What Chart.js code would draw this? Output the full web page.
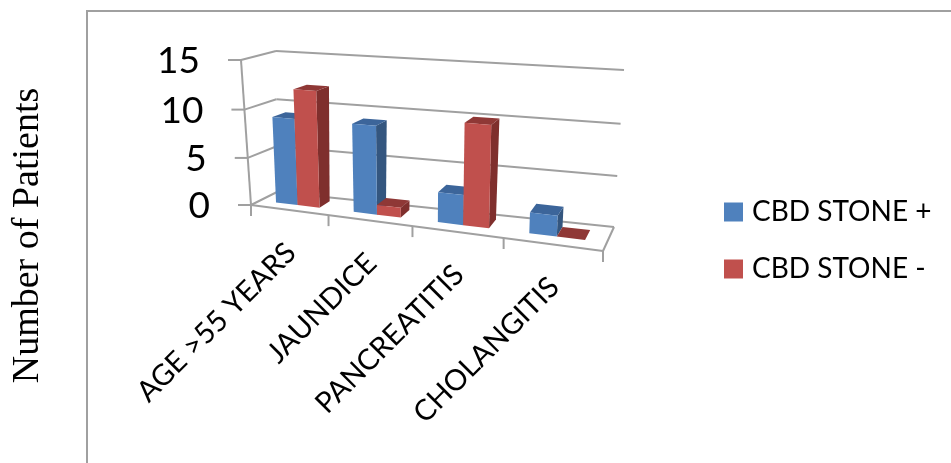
<!DOCTYPE html>
<html>
<head>
<meta charset="utf-8">
<title>CBD stone</title>
<script src="https://cdn.jsdelivr.net/npm/chart.js@4"></script>
<style>
html, body { margin: 0; padding: 0; background: #fff; }
canvas { display: block; }
</style>
</head>
<body>
<canvas id="chart" width="951" height="463"></canvas>
<script>
var categories = ["AGE >55 YEARS", "JAUNDICE", "PANCREATITIS", "CHOLANGITIS"];
var seriesNames = ["CBD STONE +", "CBD STONE -"];
var stonePositive = [9, 9, 3, 2];
var stoneNegative = [12, 1, 10, 0];
var valueMax = 15;
var valueStep = 5;

var GRID = "#a0a0a0";
var FACES = [
	{ front: "#4f81bd", top: "#3c659a", side: "#34567f" },
	{ front: "#c0504d", top: "#8f3836", side: "#7f2f2d" }
];

// corners of the 3d box as it lands on the page: [bottom, top] at front and back
var BOX = {
	frontLeft: [[251, 205], [241, 60]],
	frontRight: [[603, 251], [611, 83]],
	backLeft: [[277, 192], [276, 51]],
	backRight: [[614, 227], [624, 70]]
};
var BAR_NEAR = 0.35, BAR_FAR = 0.78;

function warp(t, k) {
	return t / (t + k * (1 - t));
}

function mix(a, b, f) {
	return [a[0] + (b[0] - a[0]) * f, a[1] + (b[1] - a[1]) * f];
}

// t along categories, s up the value axis, w into the depth, all 0..1
function place(t, s, w) {
	var u = warp(t, 1.18), v = warp(s, 1.04);
	var fl = mix(BOX.frontLeft[0], BOX.frontLeft[1], v);
	var fr = mix(BOX.frontRight[0], BOX.frontRight[1], v);
	var bl = mix(BOX.backLeft[0], BOX.backLeft[1], v);
	var br = mix(BOX.backRight[0], BOX.backRight[1], v);
	return mix(mix(fl, fr, u), mix(bl, br, u), w);
}

function line(ctx, a, b) {
	ctx.beginPath();
	ctx.moveTo(a[0], a[1]);
	ctx.lineTo(b[0], b[1]);
	ctx.stroke();
}

function quad(ctx, pts, color) {
	ctx.fillStyle = color;
	ctx.beginPath();
	ctx.moveTo(pts[0][0], pts[0][1]);
	for (var i = 1; i < pts.length; i++) {
		ctx.lineTo(pts[i][0], pts[i][1]);
	}
	ctx.closePath();
	ctx.fill();
}

function drawFrame(ctx) {
	ctx.strokeStyle = "#a0a0a0";
	ctx.lineWidth = 2;
	line(ctx, [87, 463], [87, 11]);
	line(ctx, [86, 11], [951, 11]);
}

function drawWalls(chart) {
	var ctx = chart.ctx, y = chart.scales.y, area = chart.chartArea;
	ctx.strokeStyle = GRID;
	ctx.lineWidth = 2;

	y.ticks.forEach(function(tick) {
		var s = (area.bottom - y.getPixelForValue(tick.value)) / area.height;
		var front = place(0, s, 0);
		line(ctx, front, place(0, s, 1));
		line(ctx, place(0, s, 1), place(1, s, 1));
		line(ctx, [front[0] - 13, front[1]], front);
	});
	line(ctx, place(0, 0, 0), place(0, 1, 0));
	line(ctx, place(0, 0, 0), place(1, 0, 0));
	line(ctx, place(1, 0, 0), place(1, 0, 1));

	// tick marks under the front edge
	for (var i = 0; i <= categories.length; i++) {
		var p = place(i / categories.length, 0, 0);
		line(ctx, p, [p[0], p[1] + 11]);
	}
}

function drawBars(chart) {
	var ctx = chart.ctx, area = chart.chartArea;
	categories.forEach(function(name, c) {
		chart.data.datasets.forEach(function(ds, d) {
			var bar = chart.getDatasetMeta(d).data[c];
			var t0 = (bar.x - bar.width / 2 - area.left) / area.width;
			var t1 = (bar.x + bar.width / 2 - area.left) / area.width;
			var s0 = (area.bottom - bar.base) / area.height;
			var s1 = (area.bottom - bar.y) / area.height;
			var n = BAR_NEAR, f = BAR_FAR;
			quad(ctx, [place(t1, s0, n), place(t1, s0, f), place(t1, s1, f), place(t1, s1, n)], FACES[d].side);
			quad(ctx, [place(t0, s1, n), place(t1, s1, n), place(t1, s1, f), place(t0, s1, f)], FACES[d].top);
			if (s1 > s0) {
				quad(ctx, [place(t0, s0, n), place(t1, s0, n), place(t1, s1, n), place(t0, s1, n)], FACES[d].front);
			}
		});
	});
}

function drawLabels(chart) {
	var ctx = chart.ctx, y = chart.scales.y, x = chart.scales.x, area = chart.chartArea;
	ctx.fillStyle = "#000";

	ctx.font = "37px Lato";
	ctx.textAlign = "right";
	ctx.textBaseline = "middle";
	y.ticks.forEach(function(tick) {
		var s = (area.bottom - y.getPixelForValue(tick.value)) / area.height;
		var p = place(0, s, 0);
		ctx.fillText(tick.label, p[0] - 41, p[1] + 1);
	});

	ctx.font = "29px Lato";
	categories.forEach(function(name, c) {
		var t = (x.getPixelForValue(c) - area.left) / area.width;
		var p = place(t, 0, 0);
		ctx.save();
		ctx.translate(p[0] + 2, p[1] + 38);
		ctx.rotate(-45 * Math.PI / 180);
		ctx.fillText(name, 0, 0);
		ctx.restore();
	});
}

var box3d = {
	id: "box3d",
	afterLayout: function(chart) {
		// legend sits a little below the title's centre line
		chart.legend.top += 5;
		chart.legend.bottom += 5;
	},
	beforeDatasetsDraw: function(chart) {
		drawFrame(chart.ctx);
		drawWalls(chart);
		drawBars(chart);
		drawLabels(chart);
		return false; // flat bars stay undrawn
	}
};

new Chart(document.getElementById("chart"), {
	type: "bar",
	data: {
		labels: categories,
		datasets: [
			{ label: seriesNames[0], data: stonePositive, backgroundColor: FACES[0].front },
			{ label: seriesNames[1], data: stoneNegative, backgroundColor: FACES[1].front }
		]
	},
	options: {
		responsive: false,
		animation: false,
		layout: { padding: { top: 8, right: 18, bottom: 0, left: 1 } },
		datasets: { bar: { categoryPercentage: 0.57, barPercentage: 1 } },
		scales: {
			x: { display: false },
			y: { display: false, min: 0, max: valueMax, ticks: { stepSize: valueStep } }
		},
		plugins: {
			title: {
				display: true,
				position: "left",
				text: "Number of Patients",
				color: "#000",
				font: { family: "Liberation Serif", size: 38, weight: "normal" },
				padding: { top: 4, bottom: 0 }
			},
			legend: {
				position: "right",
				labels: {
					color: "#000",
					font: { family: "Lato", size: 28 },
					usePointStyle: true,
					pointStyle: "rect",
					boxWidth: 9,
					boxHeight: 19,
					padding: 29
				}
			},
			tooltip: { enabled: false }
		}
	},
	plugins: [box3d]
});
</script>
</body>
</html>
